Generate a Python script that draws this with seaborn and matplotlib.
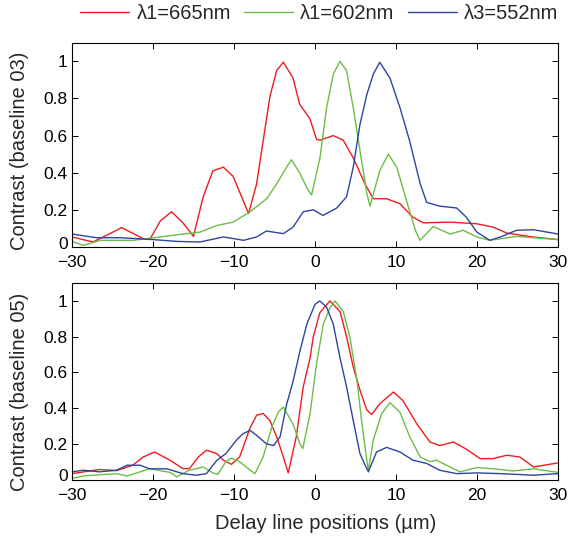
import matplotlib

matplotlib.use("Agg")

import matplotlib.pyplot as plt
import matplotlib.transforms as mtransforms
import pandas as pd
import seaborn as sns
from matplotlib.lines import Line2D

# series labels / colours
LABELS = ["\u03bb1=665nm", "\u03bb1=602nm", "\u03bb3=552nm"]
COLORS = ["#ee1c1c", "#6cbd45", "#2c45a0"]

# baseline 03 (top panel)
b03_red_x = [-30, -27.4, -24.5, -23.9, -21.2, -20.4, -19.1, -17.7, -16.3, -15.0, -13.8, -12.6,
             -11.3, -10.1, -9.05, -8.2, -7.2, -6.4, -5.56, -4.73, -3.9, -2.7, -1.9, -0.62,
             0.2, 0.62, 2.26, 3.5, 4.73, 6.17, 7.2, 8.85, 10.5, 12.1, 13.4, 16.7, 20.0, 22.0,
             23.7, 26.95, 30]
b03_red_y = [0.054, 0.027, 0.09, 0.105, 0.045, 0.04, 0.14, 0.19, 0.13, 0.057, 0.27, 0.41,
             0.43, 0.38, 0.27, 0.18, 0.34, 0.57, 0.81, 0.95, 0.995, 0.91, 0.77, 0.69,
             0.58, 0.575, 0.60, 0.575, 0.48, 0.34, 0.26, 0.26, 0.233, 0.16, 0.13, 0.134,
             0.125, 0.107, 0.075, 0.054, 0.04]

b03_green_x = [-30, -28.6, -26.5, -22.4, -19.1, -16.3, -14.2, -12.1, -10.1, -8.0, -5.96, -4.73,
               -3.5, -2.9, -1.9, -0.9, -0.41, 0.62, 1.44, 2.26, 3.09, 3.9, 4.73, 5.56, 6.4,
               6.8, 8.0, 9.05, 10.1, 11.3, 12.4, 12.96, 14.6, 16.7, 18.3, 20.0, 21.6, 24.9, 30]
b03_green_y = [0.03, 0.008, 0.036, 0.036, 0.054, 0.07, 0.08, 0.116, 0.134, 0.19, 0.26, 0.34,
               0.43, 0.47, 0.40, 0.31, 0.28, 0.48, 0.75, 0.93, 1.0, 0.95, 0.75, 0.52, 0.29,
               0.22, 0.41, 0.50, 0.43, 0.25, 0.09, 0.036, 0.11, 0.07, 0.09, 0.054, 0.036,
               0.057, 0.04]

b03_blue_x = [-30, -27, -24, -20, -17, -14.2, -11.3, -8.8, -7.2, -6.0, -3.9, -2.7, -1.44,
              -0.2, 1.0, 2.7, 3.9, 4.73, 5.56, 6.4, 7.2, 8.0, 9.26, 10.5, 11.7, 13.0, 13.8,
              15.4, 17.5, 18.7, 20.0, 21.6, 22.9, 24.9, 27.0, 30]
b03_blue_y = [0.07, 0.05, 0.05, 0.04, 0.03, 0.027, 0.054, 0.036, 0.054, 0.086, 0.072, 0.107,
              0.19, 0.20, 0.17, 0.21, 0.27, 0.43, 0.66, 0.82, 0.93, 0.995, 0.91, 0.75, 0.57,
              0.34, 0.24, 0.22, 0.21, 0.16, 0.08, 0.036, 0.054, 0.09, 0.093, 0.07]

# baseline 05 (bottom panel)
b05_red_x = [-30, -26.6, -24.5, -22.5, -21.2, -19.8, -17.9, -16.3, -15.5, -14.4, -13.4, -12.1,
             -11.3, -10.3, -9.3, -8.0, -7.2, -6.4, -5.56, -4.73, -3.9, -3.3, -2.3, -1.44,
             -0.6, -0.2, 0.62, 1.85, 3.1, 3.9, 4.73, 5.56, 6.4, 7.0, 8.0, 9.7, 10.9, 12.6,
             14.2, 15.4, 17.1, 18.7, 20.4, 22.0, 23.7, 25.3, 27.0, 30]
b05_red_y = [0.033, 0.056, 0.05, 0.08, 0.126, 0.154, 0.108, 0.061, 0.061, 0.126, 0.164, 0.145,
             0.108, 0.085, 0.126, 0.29, 0.36, 0.37, 0.33, 0.24, 0.126, 0.037, 0.24, 0.52,
             0.68, 0.80, 0.935, 1.0, 0.94, 0.80, 0.63, 0.50, 0.39, 0.364, 0.424, 0.49, 0.44,
             0.31, 0.21, 0.19, 0.21, 0.17, 0.117, 0.117, 0.136, 0.126, 0.07, 0.093]

b05_green_x = [-30, -28.6, -24.5, -23.2, -20.4, -17.9, -17.1, -15.5, -13.8, -12.6, -12.0, -11.0,
               -10.3, -9.3, -8.0, -7.4, -6.4, -5.35, -4.5, -3.9, -2.7, -1.85, -1.5, -0.6, 0.2,
               1.03, 1.85, 2.47, 3.5, 4.3, 5.14, 5.76, 6.4, 6.6, 7.2, 8.25, 9.26, 10.5, 11.7,
               13.0, 14.2, 15.0, 16.7, 17.9, 20.0, 22.0, 24.5, 27.0, 30]
b05_green_y = [0.006, 0.02, 0.033, 0.02, 0.06, 0.04, 0.015, 0.052, 0.07, 0.037, 0.028, 0.1,
               0.12, 0.1, 0.052, 0.033, 0.126, 0.29, 0.38, 0.405, 0.31, 0.2, 0.173, 0.37, 0.65,
               0.87, 0.96, 1.0, 0.94, 0.80, 0.57, 0.33, 0.108, 0.052, 0.22, 0.37, 0.43, 0.377,
               0.24, 0.126, 0.1, 0.108, 0.07, 0.043, 0.067, 0.06, 0.048, 0.06, 0.04]

b05_blue_x = [-30, -28.6, -26.6, -24.5, -23.2, -21.6, -20.4, -18.3, -16.3, -14.6, -13.4, -12.1,
              -11.0, -9.7, -8.9, -8.0, -7.2, -6.0, -5.1, -4.3, -3.5, -2.7, -1.85, -1.0, 0.0,
              0.6, 1.44, 2.26, 3.1, 3.9, 4.73, 5.56, 6.2, 6.6, 7.6, 8.85, 10.5, 12.1, 13.8,
              15.4, 17.5, 20.0, 22.9, 27.0, 30]
b05_blue_y = [0.043, 0.052, 0.043, 0.052, 0.08, 0.08, 0.06, 0.06, 0.033, 0.024, 0.033, 0.108,
              0.145, 0.22, 0.256, 0.275, 0.247, 0.2, 0.19, 0.24, 0.42, 0.55, 0.72, 0.87, 0.98,
              1.0, 0.965, 0.87, 0.68, 0.52, 0.33, 0.145, 0.08, 0.043, 0.154, 0.18, 0.154,
              0.108, 0.09, 0.052, 0.033, 0.037, 0.033, 0.024, 0.033]

PANELS = [
    ("Contrast (baseline 03)", 0.47,
     [(b03_red_x, b03_red_y), (b03_green_x, b03_green_y), (b03_blue_x, b03_blue_y)]),
    ("Contrast (baseline 05)", 0.445,
     [(b05_red_x, b05_red_y), (b05_green_x, b05_green_y), (b05_blue_x, b05_blue_y)]),
]

sns.set_style("ticks")
plt.rcParams["font.family"] = ["Liberation Sans", "DejaVu Sans"]
plt.rcParams["axes.unicode_minus"] = True

fig = plt.figure(figsize=(5.69, 5.38), dpi=100)
ax_top = fig.add_axes([0.1265, 0.5409, 0.854, 0.3797])
ax_bot = fig.add_axes([0.1265, 0.1087, 0.854, 0.3652])

for ax, (ylabel, ypos, series) in zip([ax_top, ax_bot], PANELS):
    for (xs, ys), color in zip(series, COLORS):
        df = pd.DataFrame({"x": xs, "y": ys})
        sns.lineplot(data=df, x="x", y="y", color=color, linewidth=1.0, ax=ax)
    ax.set_xlim(-30, 30)
    ax.set_ylim(0, 1.1)
    ax.set_xticks(range(-30, 31, 10))
    ax.set_yticks([0, 0.2, 0.4, 0.6, 0.8, 1])
    ax.set_yticklabels(["0", "0.2", "0.4", "0.6", "0.8", "1"])
    ax.set_ylabel(ylabel, fontsize=14.5)
    ax.yaxis.set_label_coords(-0.088, ypos)
    ax.set_xlabel("")
    ax.tick_params(direction="in", length=4, width=0.7, top=True, right=True,
                   labelsize=12.5, colors="black")
    ax.tick_params(axis="x", pad=6)
    ax.tick_params(axis="y", pad=3)
    # nudge the "0" label up a little so it clears the -30 below it
    zero_lbl = ax.get_yticklabels()[0]
    zero_lbl.set_transform(zero_lbl.get_transform()
                           + mtransforms.ScaledTranslation(0, 3 / 72, fig.dpi_scale_trans))
    for spine in ax.spines.values():
        spine.set_visible(True)
        spine.set_linewidth(0.8)
        spine.set_color("black")

ax_bot.set_xlabel("Delay line positions (\u00b5m)", fontsize=14.5)
ax_bot.xaxis.set_label_coords(0.5216, -0.1756)

handles = [Line2D([], [], color=c, linewidth=1.0) for c in COLORS]
fig.legend(handles, LABELS, loc="center", bbox_to_anchor=(0.561, 0.974), ncol=3,
           frameon=False, fontsize=14.5, handlelength=2.44, handletextpad=0.35,
           columnspacing=0.65, borderpad=0.2)

fig.savefig("out.png", dpi=100)
plt.close(fig)
